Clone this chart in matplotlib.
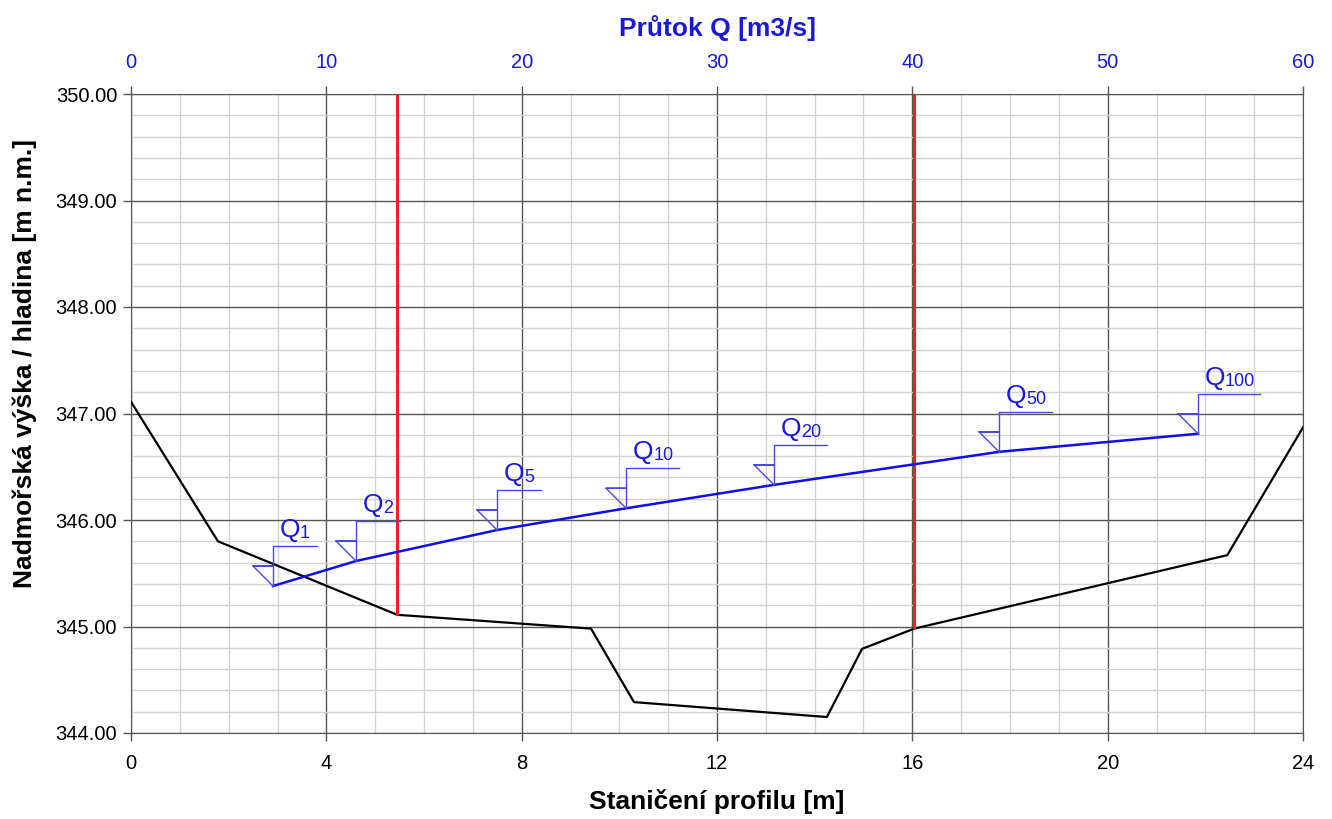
import matplotlib
matplotlib.use("Agg")
import matplotlib.pyplot as plt
from matplotlib.ticker import MultipleLocator, FormatStrFormatter

plt.rcParams['font.family'] = ['Liberation Sans', 'DejaVu Sans']

# terrain profile: station [m], elevation [m n.m.]
terrain_x = [0.0, 1.78, 5.45, 9.42, 10.30, 14.25, 14.97, 16.04, 22.45, 24.0]
terrain_y = [347.11, 345.80, 345.11, 344.98, 344.29, 344.15, 344.79, 344.98, 345.67, 346.87]

# bank stations (red verticals)
bank_x = [5.45, 16.04]
bank_y = [345.11, 344.98]

# water level vs discharge
q_names = ['1', '2', '5', '10', '20', '50', '100']
q_vals = [7.27, 11.52, 18.74, 25.35, 32.92, 44.44, 54.63]
q_levels = [345.38, 345.615, 345.906, 346.11, 346.33, 346.64, 346.81]

fig = plt.figure(figsize=(13.32, 8.19), dpi=100)
ax = fig.add_axes([131 / 1332, 1 - 733 / 819, 1172 / 1332, 639 / 819])

ax.set_xlim(0, 24)
ax.set_ylim(344, 350)
ax.xaxis.set_major_locator(MultipleLocator(4))
ax.xaxis.set_minor_locator(MultipleLocator(1))
ax.yaxis.set_major_locator(MultipleLocator(1))
ax.yaxis.set_minor_locator(MultipleLocator(0.2))
ax.yaxis.set_major_formatter(FormatStrFormatter('%.2f'))
ax.grid(which='minor', color='#d2d2d2', lw=1.0)
ax.grid(which='major', color='#555555', lw=1.0)
ax.set_axisbelow(True)
ax.tick_params(which='major', direction='out', length=6, width=1, color='#555555',
               labelsize=14.5, pad=4)
ax.tick_params(axis='x', which='major', pad=9)
ax.tick_params(which='minor', length=0)
for s in ax.spines.values():
    s.set_color('#555555')

# terrain
ax.plot(terrain_x, terrain_y, color='black', lw=1.6, zorder=4)
# bank lines
ax.vlines(bank_x, bank_y, 350, color='#f02020', lw=2.2, zorder=5)

# discharge axis on top
blue = '#1a1ad6'
ax2 = ax.twiny()
ax2.set_xlim(0, 60)
ax2.xaxis.set_major_locator(MultipleLocator(10))
ax2.tick_params(axis='x', direction='out', length=6, width=1, color='#555555',
                labelsize=14.5, labelcolor=blue, pad=10)
for s in ax2.spines.values():
    s.set_visible(False)

ax2.plot(q_vals, q_levels, color='#0f0fe8', lw=1.8, zorder=6)

# water level symbols
px_q = 1172 / 60.0   # pixels per discharge unit
px_h = 639 / 6.0     # pixels per metre
sym = '#4a4ad8'
for name, q, h in zip(q_names, q_vals, q_levels):
    top = h + 40 / px_h
    tri = h + 20 / px_h
    hlen = (35 + 9 * len(name)) / px_q
    ax2.plot([q, q, q + hlen], [h, top, top], color=sym, lw=1.0, zorder=6)
    ax2.plot([q - 20 / px_q, q, q - 20 / px_q, q],
             [tri, tri, tri, h], color=sym, lw=1.0, zorder=6)
    ax2.annotate('Q', xy=(q, h), xytext=(7, 49), textcoords='offset pixels',
                 fontsize=19, color=blue, va='baseline', ha='left')
    ax2.annotate(name, xy=(q, h), xytext=(27, 48), textcoords='offset pixels',
                 fontsize=13, color=blue, va='baseline', ha='left')

fig.text(717 / 1332, 1 - 28 / 819, 'Průtok Q [m3/s]', color=blue, fontsize=19,
         fontweight='bold', ha='center', va='center')
fig.text(717 / 1332, 1 - 802 / 819, 'Staničení profilu [m]', fontsize=19,
         fontweight='bold', ha='center', va='center')
fig.text(25 / 1332, 1 - 364 / 819, 'Nadmořská výška / hladina [m n.m.]', fontsize=19,
         fontweight='bold', ha='center', va='center', rotation=90)

fig.savefig('out.png', dpi=100)
